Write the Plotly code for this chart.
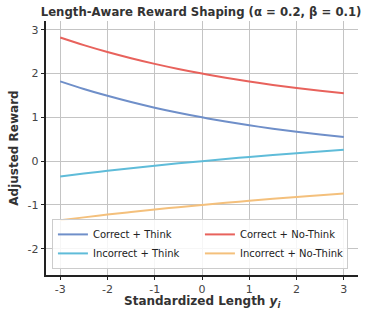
import plotly.graph_objects as go

x_vals = [-3, -2.5, -2, -1.5, -1, -0.5, 0, 0.5, 1, 1.5, 2, 2.5, 3]
correct_think = [1.822, 1.649, 1.492, 1.350, 1.221, 1.105, 1.000, 0.905, 0.819, 0.741, 0.670, 0.607, 0.549]
correct_nothink = [2.822, 2.649, 2.492, 2.350, 2.221, 2.105, 2.000, 1.905, 1.819, 1.741, 1.670, 1.607, 1.549]
incorrect_think = [-0.350, -0.284, -0.221, -0.162, -0.105, -0.051, 0.000, 0.049, 0.095, 0.139, 0.181, 0.221, 0.259]
incorrect_nothink = [-1.350, -1.284, -1.221, -1.162, -1.105, -1.051, -1.000, -0.951, -0.905, -0.861, -0.819, -0.779, -0.741]

x_ticks = [-3, -2, -1, 0, 1, 2, 3]
x_ticktext = ["-3", "-2", "-1", "0", "1", "2", "3"]
y_ticks = [-2, -1, 0, 1, 2, 3]
y_ticktext = ["-2", "-1", "0", "1", "2", "3"]

FONT = "DejaVu Sans"

series = [
    ("Correct + Think", correct_think, "#6f8fc9"),
    ("Correct + No-Think", correct_nothink, "#e8625c"),
    ("Incorrect + Think", incorrect_think, "#5fbcd9"),
    ("Incorrect + No-Think", incorrect_nothink, "#f4c07c"),
]

fig = go.Figure()
for name, ys, col in series:
    fig.add_trace(go.Scatter(x=x_vals, y=ys, mode="lines", name=name,
                             line=dict(color=col, width=2, shape="spline")))

fig.update_layout(
    width=367, height=310,
    margin=dict(l=46, r=9, t=21, b=35),
    paper_bgcolor="white", plot_bgcolor="white",
    font=dict(family=FONT, size=11, color="#333"),
    title=dict(text="<b>Length-Aware Reward Shaping (α = 0.2, β = 0.1)</b>",
               x=0.548, xanchor="center", y=0.962, yanchor="middle",
               font=dict(family=FONT, size=11.7, color="#333")),
    showlegend=True,
    legend=dict(orientation="h", x=0.019, y=0.024, xanchor="left", yanchor="bottom",
                bgcolor="rgba(255,255,255,0.85)", bordercolor="#cccccc", borderwidth=1,
                entrywidth=102, entrywidthmode="pixels",
                font=dict(family=FONT, size=10, color="#222"),
                tracegroupgap=0, itemwidth=30),
    xaxis=dict(range=[-3.3, 3.3], tickvals=x_ticks, ticktext=x_ticktext,
               showgrid=True, gridcolor="#c4c4c4", gridwidth=1.2, zeroline=False,
               showline=True, linecolor="#222", linewidth=1.5,
               ticks="outside", ticklen=3.5, tickcolor="#222",
               tickfont=dict(size=11, color="#444")),
    yaxis=dict(range=[-2.6, 3.2], tickvals=y_ticks, ticktext=y_ticktext,
               showgrid=True, gridcolor="#c4c4c4", gridwidth=1.2, zeroline=False,
               showline=True, linecolor="#222", linewidth=1.5,
               ticks="outside", ticklen=3.5, tickcolor="#222",
               tickfont=dict(size=11, color="#444"),
               title=dict(text="<b>Adjusted Reward</b>", standoff=6,
                          font=dict(size=12, color="#333"))),
    annotations=[dict(text="<b>Standardized Length <i>y<sub>i</sub></i></b>",
                      xref="paper", yref="paper", x=0.5, y=0, yshift=-27,
                      xanchor="center", yanchor="middle", showarrow=False,
                      font=dict(family=FONT, size=12, color="#333"))],
)

fig.write_html("out.html", config={"displayModeBar": False},
               post_script="document.body.style.margin='0';")
